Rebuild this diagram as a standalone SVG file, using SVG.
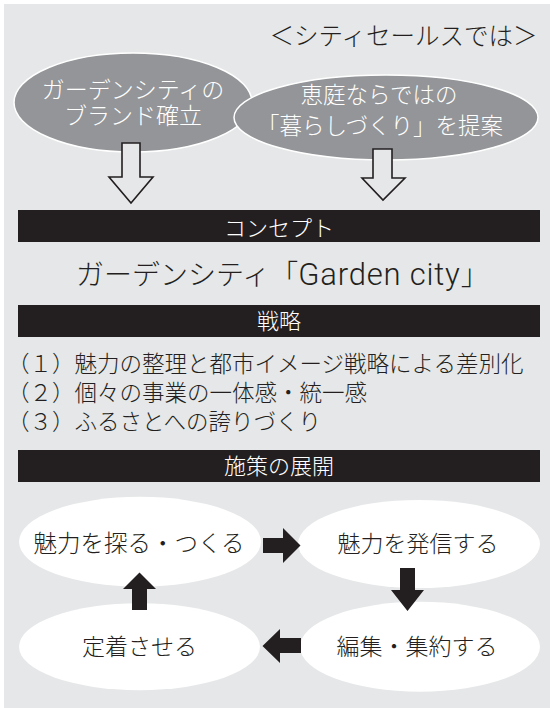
<svg xmlns="http://www.w3.org/2000/svg" width="550" height="708" viewBox="0 0 550 708">
<style>
text{font-family:"Noto Sans CJK JP","Noto Sans",sans-serif;font-weight:300;}
.dark{fill:#939598;stroke:#ffffff;stroke-width:1.5;}
.light{fill:#ffffff;}
.bar{fill:#231f20;}
.w{fill:#ffffff;}
.k{fill:#231f20;}
.lat{font-family:Roboto,"Liberation Sans","Noto Sans CJK JP",sans-serif;font-weight:300;}
.hollow{fill:#e6e7e8;stroke:#231f20;stroke-width:1.6;stroke-linejoin:miter;}
.solid{fill:#231f20;}
</style>
<rect x="4" y="4" width="546" height="704" fill="#e6e7e8"/>
<text class="k" x="403.5" y="44.5" font-size="24.5" text-anchor="middle">＜シティセールスでは＞</text>

<g id="node-brand">
<ellipse class="dark" cx="133" cy="102.5" rx="119" ry="49.5"/>
<text class="w" font-size="23" text-anchor="middle"><tspan x="133" y="98">ガーデンシティの</tspan><tspan x="133" y="123.5">ブランド確立</tspan></text>
</g>
<g id="node-kurashi">
<ellipse class="dark" cx="386" cy="117.5" rx="152" ry="42.5"/>
<text class="w" font-size="22.5" text-anchor="middle"><tspan x="379" y="102.5">恵庭ならではの</tspan><tspan x="380" y="133.5">「暮らしづくり」を提案</tspan></text>
</g>

<g id="connectors-top">
<polygon class="hollow" points="122,143 140,143 140,177 153,177 131,203 109,177 122,177"/>
<polygon class="hollow" points="373,149 392,149 392,178 405,178 383,200 362,178 373,178"/>
</g>

<g id="node-concept">
<rect class="bar" x="18" y="210" width="522" height="32"/>
<text class="w" x="279" y="236" font-size="22" text-anchor="middle">コンセプト</text>
</g>
<g id="node-gardencity">
<text class="k" x="76" y="284.5" font-size="28">ガーデンシティ「<tspan class="lat" font-size="31" letter-spacing="0.8">Garden city</tspan>」</text>
</g>
<g id="node-strategy">
<rect class="bar" x="18" y="305" width="522" height="32"/>
<text class="w" x="279" y="328.5" font-size="22" text-anchor="middle">戦略</text>
</g>
<g id="node-strategy-list">
<text class="k" x="7" y="371.5" font-size="22.5">（１）魅力の整理と都市イメージ戦略による差別化</text>
<text class="k" x="7" y="400.5" font-size="22.5">（２）個々の事業の一体感・統一感</text>
<text class="k" x="7" y="429.5" font-size="22.5">（３）ふるさとへの誇りづくり</text>
</g>
<g id="node-measures">
<rect class="bar" x="18" y="450" width="522" height="32"/>
<text class="w" x="279" y="473.5" font-size="22" text-anchor="middle">施策の展開</text>
</g>

<g id="node-explore">
<ellipse class="light" cx="140" cy="541.7" rx="121" ry="45"/>
<text class="k" x="139" y="552" font-size="23.5" text-anchor="middle">魅力を探る・つくる</text>
</g>
<g id="node-send">
<ellipse class="light" cx="419" cy="544" rx="121" ry="44"/>
<text class="k" x="418" y="552" font-size="23" text-anchor="middle">魅力を発信する</text>
</g>
<g id="node-edit">
<ellipse class="light" cx="420" cy="646.7" rx="120" ry="45"/>
<text class="k" x="417" y="655" font-size="23" text-anchor="middle">編集・集約する</text>
</g>
<g id="node-settle">
<ellipse class="light" cx="139.5" cy="646.7" rx="120.5" ry="43.5"/>
<text class="k" x="139.5" y="655" font-size="23" text-anchor="middle">定着させる</text>
</g>

<g id="connectors-cycle">
<polygon class="solid" points="263,538 283,538 283,528 300.5,545.5 283,563 283,553 263,553"/>
<polygon class="solid" points="400,568 415,568 415,590 424,590 407.5,611 391,590 400,590"/>
<polygon class="solid" points="301,638 280,638 280,629 262.5,646 280,663 280,653 301,653"/>
<polygon class="solid" points="132,610 147,610 147,589 156,589 139.5,572.5 123,589 132,589"/>
</g>
</svg>
